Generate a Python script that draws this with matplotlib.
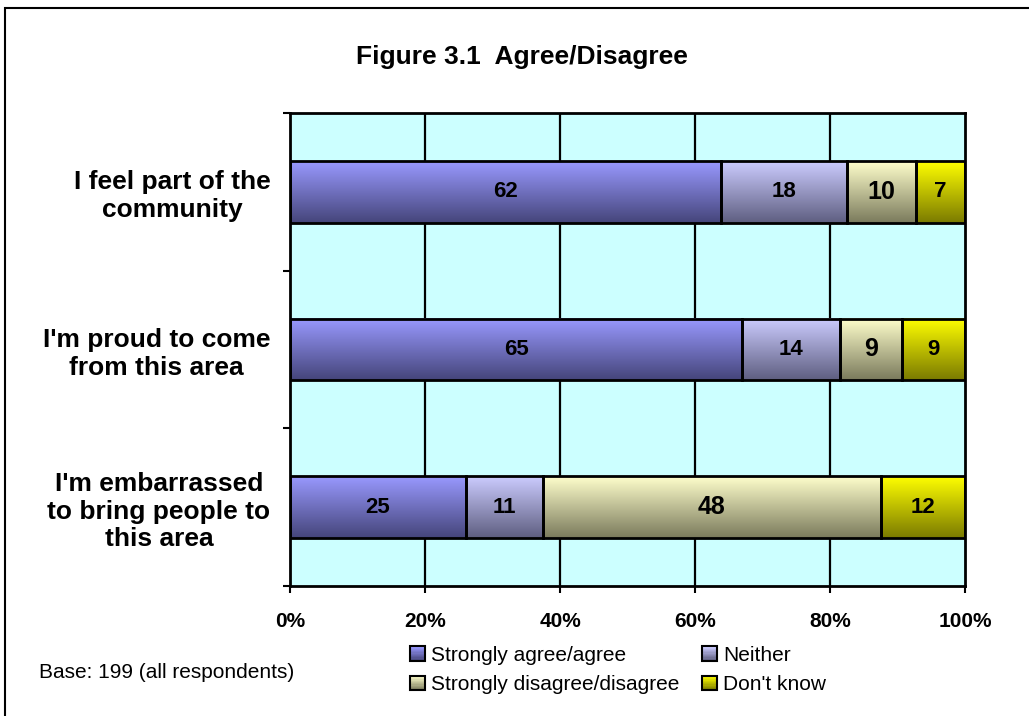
import numpy as np
import matplotlib
matplotlib.use('Agg')
import matplotlib.pyplot as plt
from matplotlib.patches import Rectangle
from matplotlib.colors import LinearSegmentedColormap
from matplotlib.legend_handler import HandlerBase

# ---- data ----
categories = ["I feel part of the\ncommunity",
              "I'm proud to come\nfrom this area",
              "I'm embarrassed\nto bring people to\nthis area"]
series_names = ["Strongly agree/agree", "Neither",
                "Strongly disagree/disagree", "Don't know"]
agree = [62, 65, 25]
neither = [18, 14, 11]
disagree = [10, 9, 48]
dont_know = [7, 9, 12]
xtick_values = [0, 0.2, 0.4, 0.6, 0.8, 1.0]
xtick_labels = ["0%", "20%", "40%", "60%", "80%", "100%"]
title_text = "Figure 3.1  Agree/Disagree"
base_note = "Base: 199 (all respondents)"

# ---- style ----
plt.rcParams['font.family'] = ['Liberation Sans', 'DejaVu Sans']
grad_colors = [("#9999FF", "#45457A"),
               ("#CCCCFF", "#5E5E80"),
               ("#FFFFCC", "#7A7A5C"),
               ("#FFFF00", "#7A7A00")]
label_sizes = [16, 16, 18, 16]
cmaps = [LinearSegmentedColormap.from_list(f"g{i}", list(c)) for i, c in enumerate(grad_colors)]

W, H = 1029, 716
fig = plt.figure(figsize=(W / 100, H / 100), dpi=100)
ax = fig.add_axes([290 / W, 1 - 586 / H, 675 / W, 473 / H])
ax.set_facecolor("#CCFFFF")

series = [agree, neither, disagree, dont_know]
data = np.array(series, dtype=float)
totals = data.sum(axis=0)
frac = data / totals

y = np.arange(len(categories))
left = np.zeros(len(categories))
bar_h = 0.39
grad = np.linspace(0, 1, 256).reshape(-1, 1)
for si, (vals, fr) in enumerate(zip(series, frac)):
    bars = ax.barh(y, fr, left=left, height=bar_h, facecolor='none',
                   edgecolor='black', linewidth=2.0, zorder=4)
    for rect, v in zip(bars, vals):
        x0, y0 = rect.get_x(), rect.get_y()
        w, h = rect.get_width(), rect.get_height()
        ax.imshow(grad, extent=[x0, x0 + w, y0 + h, y0], origin='upper',
                  aspect='auto', cmap=cmaps[si], zorder=3, interpolation='bilinear')
        ax.text(x0 + w / 2, y0 + h / 2, str(v), ha='center', va='center',
                fontsize=label_sizes[si], fontweight='bold', zorder=5)
    left = left + fr

ax.set_xlim(0, 1)
ax.set_ylim(len(categories) - 0.5, -0.5)
ax.set_aspect('auto')

# grid
for xv in xtick_values[1:-1]:
    ax.axvline(xv, color='black', linewidth=1.6, zorder=1)

for s in ax.spines.values():
    s.set_linewidth(2.0)
    s.set_color('black')
    s.set_zorder(6)

ax.set_xticks(xtick_values)
ax.set_xticklabels(xtick_labels, fontsize=15, fontweight='bold')
ax.tick_params(axis='x', direction='out', length=5, width=1.5, pad=14)

ax.set_yticks(np.arange(len(categories) + 1) - 0.5)
ax.set_yticklabels([])
ax.tick_params(axis='y', which='major', direction='out', length=5, width=1.5)
ax.set_yticks(y, minor=True)
ax.set_yticklabels(categories, minor=True, fontsize=19, fontweight='bold')
ax.tick_params(axis='y', which='minor', length=0, pad=14)
for lbl in ax.get_yticklabels(minor=True):
    lbl.set_multialignment('center')

fig.text(522 / W, 1 - 57 / H, title_text, ha='center', va='center',
         fontsize=19, fontweight='bold')
fig.text(39 / W, 1 - 672 / H, base_note, ha='left', va='center', fontsize=15)

# figure border
fig.patches.append(Rectangle((5 / W, -0.1), 1.2, 1 - 8 / H + 0.1,
                             transform=fig.transFigure, fill=False,
                             edgecolor='black', linewidth=1.5))


class GradHandler(HandlerBase):
    def __init__(self, cmap):
        super().__init__()
        self.cmap = cmap

    def create_artists(self, legend, orig_handle, xdescent, ydescent,
                       width, height, fontsize, trans):
        n = 12
        arts = []
        for i in range(n):
            yy = -ydescent + height * (1 - (i + 1) / n)
            arts.append(Rectangle((-xdescent, yy), width, height / n,
                                  facecolor=self.cmap(i / (n - 1)),
                                  edgecolor='none', transform=trans))
        arts.append(Rectangle((-xdescent, -ydescent), width, height, fill=False,
                              edgecolor='black', linewidth=1.5, transform=trans))
        return arts


proxies = [Rectangle((0, 0), 1, 1) for _ in series_names]
order = [0, 2, 1, 3]
hmap = {proxies[i]: GradHandler(cmaps[i]) for i in range(len(series_names))}
fig.legend([proxies[i] for i in order], [series_names[i] for i in order],
           handler_map=hmap, ncol=2, loc='upper left',
           bbox_to_anchor=(410 / W, 1 - 646 / H), frameon=False,
           fontsize=15, borderpad=0, borderaxespad=0, handlelength=0.7,
           handleheight=0.7, handletextpad=0.3, labelspacing=0.5,
           columnspacing=1.1)

fig.savefig("out.png", dpi=100)
